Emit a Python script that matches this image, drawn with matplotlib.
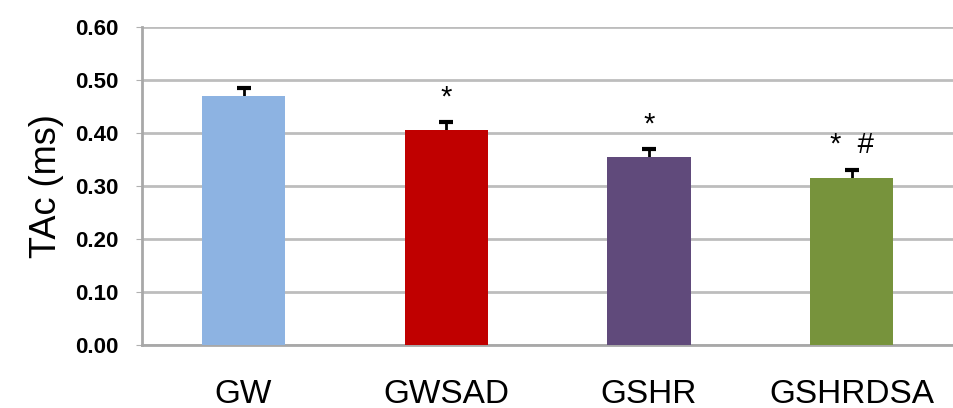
import matplotlib.pyplot as plt
import numpy as np

groups = ['GW', 'GWSAD', 'GSHR', 'GSHRDSA']
tac = [0.470, 0.406, 0.354, 0.316]
err = [0.014, 0.014, 0.015, 0.014]
marks = ['', '*', '*', '*  #']
colors = ['#8DB3E2', '#C00000', '#604A7B', '#77933C']

plt.rcParams['font.family'] = ['Liberation Sans', 'DejaVu Sans']

fig = plt.figure(figsize=(9.54, 4.08), dpi=100)
ax = fig.add_axes([0.149, 0.154, 0.850, 0.780])

x = np.arange(len(groups))
ax.bar(x, tac, width=0.41, color=colors, zorder=3)
# errorbar drawn under the bars so only the upper half shows
ax.errorbar(x, tac, yerr=err, fmt='none',
            ecolor='black', elinewidth=2, capsize=5, capthick=3, zorder=2)

# significance marks above the error bars
for xi, v, e, m in zip(x, tac, err, marks):
    if m:
        ax.annotate(m, (xi, v + e), xytext=(0, 8), textcoords='offset points',
                    ha='center', va='bottom', fontsize=21)

ax.set_xlim(-0.5, 3.5)
ax.set_ylim(0, 0.6)
ax.set_yticks(np.arange(0, 0.61, 0.1))
ax.set_yticklabels(['%.2f' % t for t in np.arange(0, 0.61, 0.1)],
                   fontsize=16, fontweight='bold')
ax.set_xticks(x)
ax.set_xticklabels(groups, fontsize=24)
ax.tick_params(axis='x', length=0, pad=24)
ax.tick_params(axis='y', length=4, color='#b0b0b0', pad=13)
ax.set_ylabel('TAc (ms)', fontsize=26, labelpad=8)

ax.yaxis.grid(True, color='#bdbdbd', linewidth=2, zorder=0)
ax.set_axisbelow(True)
for s in ['top', 'right']:
    ax.spines[s].set_visible(False)
for s in ['left', 'bottom']:
    ax.spines[s].set_color('#a8a8a8')
    ax.spines[s].set_linewidth(2)

fig.savefig('out.png')
